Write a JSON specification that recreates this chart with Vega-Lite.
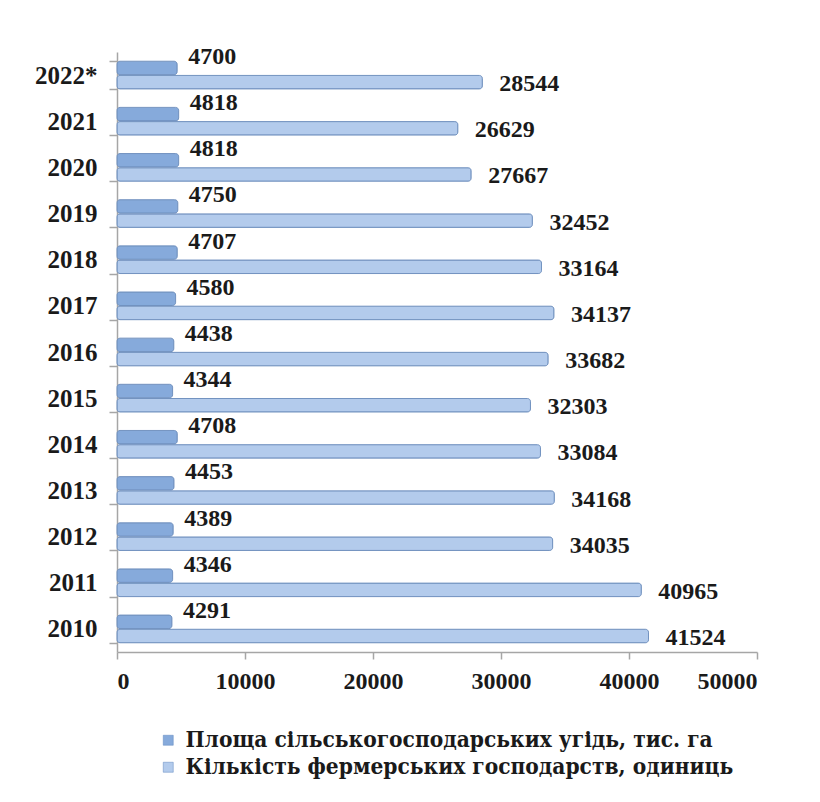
{
  "$schema": "https://vega.github.io/schema/vega-lite/v6.json",
  "autosize": {"type": "none"},
  "width": 640,
  "height": 600,
  "padding": {"left": 117, "top": 52, "right": 63, "bottom": 150},
  "background": "white",
  "data": {
    "values": [
      {"year": "2022*", "series": "Площа сільськогосподарських  угідь, тис. га", "value": 4700},
      {"year": "2022*", "series": "Кількість фермерських господарств, одиниць", "value": 28544},
      {"year": "2021", "series": "Площа сільськогосподарських  угідь, тис. га", "value": 4818},
      {"year": "2021", "series": "Кількість фермерських господарств, одиниць", "value": 26629},
      {"year": "2020", "series": "Площа сільськогосподарських  угідь, тис. га", "value": 4818},
      {"year": "2020", "series": "Кількість фермерських господарств, одиниць", "value": 27667},
      {"year": "2019", "series": "Площа сільськогосподарських  угідь, тис. га", "value": 4750},
      {"year": "2019", "series": "Кількість фермерських господарств, одиниць", "value": 32452},
      {"year": "2018", "series": "Площа сільськогосподарських  угідь, тис. га", "value": 4707},
      {"year": "2018", "series": "Кількість фермерських господарств, одиниць", "value": 33164},
      {"year": "2017", "series": "Площа сільськогосподарських  угідь, тис. га", "value": 4580},
      {"year": "2017", "series": "Кількість фермерських господарств, одиниць", "value": 34137},
      {"year": "2016", "series": "Площа сільськогосподарських  угідь, тис. га", "value": 4438},
      {"year": "2016", "series": "Кількість фермерських господарств, одиниць", "value": 33682},
      {"year": "2015", "series": "Площа сільськогосподарських  угідь, тис. га", "value": 4344},
      {"year": "2015", "series": "Кількість фермерських господарств, одиниць", "value": 32303},
      {"year": "2014", "series": "Площа сільськогосподарських  угідь, тис. га", "value": 4708},
      {"year": "2014", "series": "Кількість фермерських господарств, одиниць", "value": 33084},
      {"year": "2013", "series": "Площа сільськогосподарських  угідь, тис. га", "value": 4453},
      {"year": "2013", "series": "Кількість фермерських господарств, одиниць", "value": 34168},
      {"year": "2012", "series": "Площа сільськогосподарських  угідь, тис. га", "value": 4389},
      {"year": "2012", "series": "Кількість фермерських господарств, одиниць", "value": 34035},
      {"year": "2011", "series": "Площа сільськогосподарських  угідь, тис. га", "value": 4346},
      {"year": "2011", "series": "Кількість фермерських господарств, одиниць", "value": 40965},
      {"year": "2010", "series": "Площа сільськогосподарських  угідь, тис. га", "value": 4291},
      {"year": "2010", "series": "Кількість фермерських господарств, одиниць", "value": 41524}
    ]
  },
  "encoding": {
    "y": {
      "field": "year",
      "type": "nominal",
      "sort": ["2022*", "2021", "2020", "2019", "2018", "2017", "2016", "2015", "2014", "2013", "2012", "2011", "2010"],
      "scale": {"paddingInner": 0.4, "paddingOuter": 0.2},
      "axis": {
        "title": null,
        "tickBand": "extent",
        "domainColor": "#a6a6a6",
        "domainWidth": 1.5,
        "tickColor": "#a6a6a6",
        "tickWidth": 1.5,
        "tickSize": 8,
        "labelPadding": 12,
        "labelFont": "Liberation Serif",
        "labelFontWeight": "bold",
        "labelFontSize": 25,
        "labelColor": "#1a1a1a"
      }
    },
    "yOffset": {
      "field": "series",
      "type": "nominal",
      "sort": ["Площа сільськогосподарських  угідь, тис. га", "Кількість фермерських господарств, одиниць"],
      "scale": {"paddingInner": 0.05}
    },
    "x": {
      "field": "value",
      "type": "quantitative",
      "scale": {"domain": [0, 50000], "nice": false},
      "axis": {
        "title": null,
        "values": [0, 10000, 20000, 30000, 40000, 50000],
        "grid": false,
        "domainColor": "#a6a6a6",
        "domainWidth": 1.5,
        "tickColor": "#a6a6a6",
        "tickWidth": 1.5,
        "tickSize": 7,
        "labelPadding": 10,
        "labelFont": "Liberation Serif",
        "labelFontWeight": "bold",
        "labelFontSize": 24,
        "labelColor": "#1a1a1a",
        "format": "d"
      }
    }
  },
  "layer": [
    {
      "mark": {"type": "bar", "cornerRadius": 3, "stroke": "#7393c0", "strokeWidth": 1},
      "encoding": {
        "color": {
          "field": "series",
          "type": "nominal",
          "sort": ["Площа сільськогосподарських  угідь, тис. га", "Кількість фермерських господарств, одиниць"],
          "scale": {
            "domain": ["Площа сільськогосподарських  угідь, тис. га", "Кількість фермерських господарств, одиниць"],
            "range": ["#86aadb", "#b3cbec"]
          },
          "legend": {
            "title": null,
            "orient": "none",
            "legendX": 40,
            "legendY": 677,
            "direction": "vertical",
            "symbolType": "square",
            "symbolSize": 100,
            "symbolStrokeColor": "#5f86bf",
            "symbolStrokeWidth": 0.5,
            "labelOffset": 6,
            "labelLimit": 700,
            "rowPadding": 4
          }
        }
      }
    },
    {
      "transform": [{"filter": "datum.series == 'Площа сільськогосподарських  угідь, тис. га'"}],
      "mark": {"type": "text", "align": "left", "baseline": "middle", "dx": 11, "dy": -11, "font": "Liberation Serif", "fontWeight": "bold", "fontSize": 24, "color": "#1a1a1a"},
      "encoding": {
        "text": {"field": "value", "type": "quantitative", "format": "d"}
      }
    },
    {
      "transform": [{"filter": "datum.series == 'Кількість фермерських господарств, одиниць'"}],
      "mark": {"type": "text", "align": "left", "baseline": "middle", "dx": 17, "dy": 2, "font": "Liberation Serif", "fontWeight": "bold", "fontSize": 24, "color": "#1a1a1a"},
      "encoding": {
        "text": {"field": "value", "type": "quantitative", "format": "d"}
      }
    }
  ],
  "config": {
    "view": {"stroke": null},
    "legend": {
      "labelFont": "DejaVu Serif Condensed",
      "labelFontWeight": "bold",
      "labelFontSize": 22.5,
      "labelColor": "#1a1a1a"
    }
  }
}
